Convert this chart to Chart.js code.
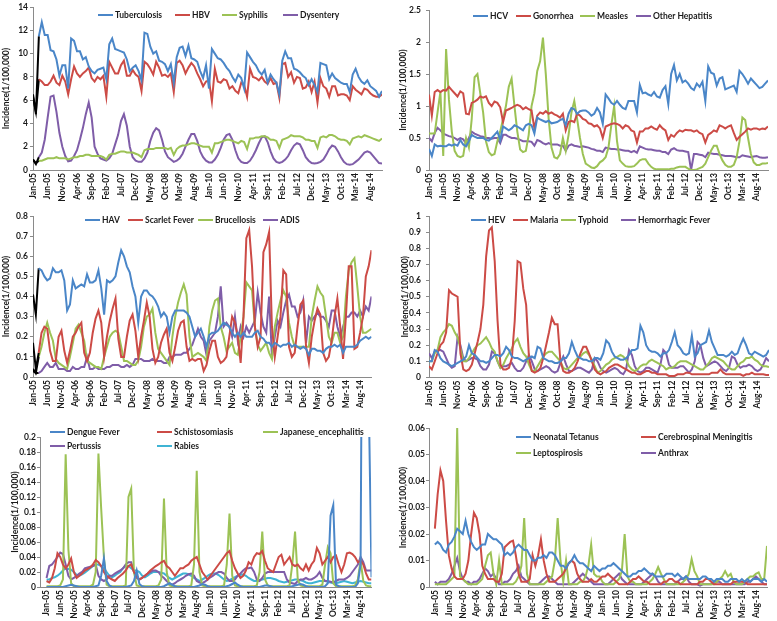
<!DOCTYPE html>
<html><head><meta charset="utf-8">
<script src="https://cdn.jsdelivr.net/npm/chart.js@4/dist/chart.umd.min.js"></script>
<style>
html,body{margin:0;padding:0;background:#fff;}
body{width:777px;height:621px;position:relative;overflow:hidden;font-family:Lato,'Liberation Sans',sans-serif;}
.panel{position:absolute;}
.lg{position:absolute;font:700 8.5px Lato,'Liberation Sans',sans-serif;color:#1a1a1a;white-space:nowrap;line-height:10px;height:10px;}
.lg i{position:absolute;left:0;top:4px;width:15px;height:2px;}
.lg span{position:absolute;left:17px;top:0;}
</style></head><body>
<script>
// ---------- categories ----------
const monthNames = ['Jan','Feb','Mar','Apr','May','Jun','Jul','Aug','Sep','Oct','Nov','Dec'];
const yearCodes = ['05','06','07','08','09','10','11','12','13','14'];
const categories = [];
yearCodes.forEach(y => monthNames.forEach(m => categories.push(m + '-' + y)));
const tickLabels = ['Jan-05','Jun-05','Nov-05','Apr-06','Sep-06','Feb-07','Jul-07','Dec-07','May-08','Oct-08','Mar-09','Aug-09','Jan-10','Jun-10','Nov-10','Apr-11','Sep-11','Feb-12','Jul-12','Dec-12','May-13','Oct-13','Mar-14','Aug-14'];

// ---------- panel 1 ----------
const tuberculosis = [
6.5,4.8,11.5,12.7,11.6,11.6,10.3,10.2,9.5,8.1,9.0,9.0,
7.0,11.3,11.1,10.2,10.2,9.5,9.7,8.9,8.5,8.3,8.6,8.7,
8.8,7.8,10.8,11.3,10.4,10.3,10.2,10.1,9.5,8.5,8.8,9.0,
8.5,7.7,11.8,11.7,10.6,10.0,10.2,9.4,9.3,9.1,8.5,9.1,
7.5,9.7,10.5,10.6,9.8,10.7,9.6,9.5,9.3,8.5,7.9,9.0,
7.0,10.4,10.0,9.6,9.5,9.2,8.8,8.5,8.0,7.6,8.2,7.9,
7.0,10.1,9.7,9.3,9.0,8.5,8.2,8.6,7.5,8.2,7.8,7.5,
6.5,9.4,10.2,9.6,9.6,8.7,8.6,8.4,8.1,7.9,7.3,7.8,
7.3,6.7,9.2,9.1,9.0,7.8,8.3,7.9,7.7,7.5,7.4,7.4,
6.7,8.2,8.7,8.0,7.6,7.4,7.7,7.2,7.0,6.8,6.3,6.8];
const hbv = [
6.3,5.0,7.8,7.6,7.3,7.3,7.6,8.1,7.5,7.3,8.1,7.6,
6.5,7.8,8.9,8.3,8.0,8.3,8.5,8.8,7.9,7.6,8.0,7.8,
8.1,6.3,9.3,8.8,8.3,8.3,9.0,9.4,8.1,8.1,8.6,8.2,
8.0,6.8,9.3,9.1,8.7,8.2,9.3,8.8,8.1,8.2,8.0,8.3,
6.7,9.2,9.4,9.0,8.3,8.8,9.2,8.9,8.3,7.8,7.2,7.6,
7.7,5.9,8.7,7.6,7.5,7.8,7.7,7.0,7.2,6.8,6.6,7.5,
7.3,6.3,8.7,8.0,7.9,7.7,8.0,7.6,7.4,7.9,7.4,7.5,
6.2,9.1,9.2,8.0,8.4,7.5,8.0,7.9,7.0,7.1,7.6,6.7,
7.6,5.8,7.9,7.2,7.0,6.3,7.2,7.2,6.4,6.5,6.5,6.4,
6.0,7.2,6.9,6.7,6.5,7.0,6.9,6.6,6.4,6.3,6.3,6.5];
const syphilis = [
0.9,0.6,0.8,0.8,0.9,1.0,1.0,1.0,1.1,1.0,1.0,1.0,
0.9,1.0,1.1,1.1,1.2,1.2,1.3,1.3,1.2,1.2,1.2,1.2,
1.1,0.9,1.3,1.4,1.4,1.5,1.6,1.6,1.5,1.5,1.5,1.4,
1.3,1.1,1.7,1.8,1.8,1.8,1.9,1.9,1.9,1.9,1.8,1.9,
1.3,1.8,2.0,2.1,2.1,2.2,2.3,2.3,2.2,2.1,2.0,2.0,
2.0,1.5,2.3,2.3,2.4,2.5,2.6,2.6,2.5,2.4,2.3,2.5,
2.4,1.8,2.7,2.7,2.8,2.8,2.9,2.9,2.8,2.6,2.6,2.5,
1.9,2.6,2.7,2.8,3.0,2.9,2.9,2.9,2.8,2.6,2.6,2.5,
2.5,1.9,2.8,2.9,2.8,3.0,3.0,2.9,2.7,2.6,2.6,2.5,
2.2,2.7,2.8,2.9,2.8,3.0,2.9,2.8,2.7,2.6,2.5,2.7];
const dysentery = [
0.9,0.5,1.1,1.5,2.6,4.5,6.3,6.4,5.0,3.2,2.0,1.2,
0.75,0.8,1.2,1.7,2.6,3.6,4.8,5.8,4.5,2.0,1.4,1.0,
0.9,0.8,1.0,1.4,2.2,3.0,4.2,4.8,3.8,2.0,1.1,0.8,
0.7,0.7,1.0,1.5,2.5,3.2,3.6,3.4,2.6,1.6,1.1,0.9,
0.7,0.8,1.0,1.4,2.0,2.6,3.1,3.1,2.5,1.6,1.1,0.8,
0.65,0.65,0.9,1.3,1.9,2.6,3.0,3.1,2.6,1.7,1.0,0.7,
0.6,0.6,0.8,1.2,1.7,2.3,2.8,2.9,2.4,1.6,1.0,0.7,
0.6,0.7,0.9,1.2,1.7,2.1,2.3,2.2,1.7,1.1,0.8,0.6,
0.55,0.6,0.7,0.9,1.3,1.8,2.1,2.0,1.6,1.1,0.7,0.5,
0.45,0.5,0.7,0.9,1.2,1.5,1.6,1.5,1.2,0.9,0.6,0.55];

// ---------- panel 2 ----------
const hcv = [
0.33,0.22,0.40,0.37,0.38,0.37,0.37,0.40,0.38,0.40,0.38,0.47,
0.40,0.37,0.45,0.55,0.52,0.50,0.50,0.50,0.47,0.46,0.50,0.55,
0.60,0.47,0.68,0.65,0.62,0.65,0.70,0.68,0.65,0.62,0.70,0.72,
0.70,0.57,0.82,0.79,0.77,0.75,0.77,0.73,0.74,0.75,0.78,0.80,
0.70,0.88,0.97,0.95,0.88,0.92,0.93,0.93,0.90,0.85,0.88,0.97,
0.90,0.72,1.18,1.12,1.05,1.02,1.08,1.02,0.97,0.95,1.08,1.08,
1.08,0.90,1.33,1.20,1.21,1.18,1.16,1.22,1.15,1.13,1.25,1.31,
1.03,1.50,1.64,1.40,1.50,1.37,1.40,1.35,1.28,1.25,1.35,1.30,
1.38,1.08,1.62,1.52,1.50,1.32,1.43,1.45,1.26,1.28,1.30,1.32,
1.22,1.55,1.50,1.43,1.35,1.43,1.38,1.33,1.28,1.30,1.35,1.40];
const gonorrhea = [
1.18,0.85,1.22,1.25,1.22,1.25,1.24,1.30,1.25,1.20,1.15,1.23,
1.20,0.88,0.87,1.05,1.07,1.10,1.15,1.13,1.15,1.05,1.00,1.07,
1.05,0.98,0.75,0.93,0.95,0.97,1.00,1.02,1.00,0.95,0.98,0.95,
0.93,0.65,0.85,0.90,0.88,0.92,0.88,0.90,0.87,0.85,0.82,0.88,
0.62,0.75,0.77,0.75,0.88,0.85,0.80,0.78,0.73,0.72,0.68,0.70,
0.65,0.50,0.68,0.70,0.72,0.73,0.72,0.70,0.65,0.70,0.68,0.62,
0.60,0.43,0.60,0.60,0.65,0.65,0.68,0.65,0.63,0.70,0.65,0.62,
0.47,0.55,0.52,0.58,0.62,0.60,0.63,0.62,0.62,0.60,0.62,0.58,
0.56,0.43,0.55,0.58,0.62,0.60,0.70,0.68,0.65,0.68,0.70,0.58,
0.47,0.52,0.56,0.60,0.65,0.63,0.65,0.65,0.63,0.65,0.64,0.68];
const measles = [
0.57,0.57,0.57,0.90,1.22,0.22,1.89,1.10,0.60,0.30,0.22,0.20,
0.22,0.50,0.35,0.80,1.45,1.50,1.20,0.90,0.45,0.28,0.23,0.25,
0.45,0.60,0.80,1.00,1.30,1.43,1.00,0.60,0.32,0.28,0.30,0.55,
1.00,1.20,1.55,1.70,2.07,1.50,0.80,0.35,0.20,0.18,0.25,0.50,
0.30,0.55,0.90,1.08,0.80,0.50,0.25,0.10,0.07,0.04,0.03,0.06,
0.12,0.15,0.20,0.35,0.70,1.00,0.45,0.15,0.10,0.06,0.05,0.05,
0.06,0.10,0.15,0.17,0.17,0.10,0.05,0.02,0.01,0.01,0.01,0.01,
0.01,0.02,0.02,0.04,0.05,0.05,0.05,0.02,0.00,0.00,0.01,0.03,
0.05,0.10,0.20,0.30,0.38,0.38,0.25,0.15,0.08,0.05,0.05,0.08,
0.20,0.45,0.82,0.78,0.50,0.25,0.12,0.08,0.08,0.10,0.10,0.11];
const otherHepatitis = [
0.50,0.45,0.58,0.66,0.62,0.57,0.55,0.53,0.52,0.50,0.47,0.50,
0.48,0.42,0.50,0.60,0.57,0.55,0.53,0.52,0.50,0.50,0.49,0.50,
0.50,0.42,0.55,0.55,0.52,0.50,0.50,0.49,0.47,0.45,0.45,0.45,
0.44,0.38,0.47,0.45,0.42,0.40,0.42,0.40,0.40,0.40,0.38,0.38,
0.30,0.38,0.40,0.38,0.37,0.36,0.37,0.36,0.35,0.33,0.32,0.30,
0.30,0.28,0.35,0.34,0.33,0.33,0.32,0.32,0.31,0.30,0.30,0.28,
0.30,0.27,0.37,0.35,0.33,0.32,0.32,0.31,0.30,0.30,0.28,0.28,
0.25,0.32,0.34,0.31,0.30,0.30,0.29,0.28,0.00,0.25,0.25,0.24,
0.23,0.20,0.27,0.26,0.25,0.25,0.24,0.23,0.22,0.22,0.22,0.21,
0.20,0.20,0.23,0.22,0.21,0.20,0.21,0.22,0.20,0.19,0.19,0.20];

// ---------- panel 3 ----------
const hav = [
0.41,0.31,0.54,0.53,0.50,0.48,0.49,0.54,0.52,0.52,0.53,0.48,
0.33,0.36,0.48,0.44,0.45,0.46,0.45,0.51,0.47,0.47,0.48,0.53,
0.44,0.31,0.48,0.47,0.48,0.50,0.57,0.63,0.60,0.55,0.52,0.45,
0.40,0.27,0.40,0.43,0.43,0.41,0.40,0.38,0.35,0.30,0.32,0.30,
0.22,0.30,0.33,0.33,0.33,0.33,0.32,0.30,0.25,0.20,0.22,0.24,
0.20,0.15,0.21,0.22,0.22,0.23,0.25,0.27,0.26,0.25,0.22,0.20,
0.22,0.20,0.22,0.20,0.20,0.20,0.22,0.23,0.20,0.19,0.17,0.17,
0.15,0.17,0.16,0.15,0.16,0.16,0.17,0.15,0.16,0.15,0.14,0.15,
0.14,0.11,0.14,0.14,0.13,0.13,0.12,0.14,0.15,0.15,0.16,0.15,
0.16,0.12,0.15,0.15,0.15,0.15,0.16,0.18,0.19,0.20,0.19,0.20];
const scarletFever = [
0.17,0.04,0.12,0.22,0.25,0.24,0.13,0.08,0.08,0.20,0.23,0.13,
0.07,0.13,0.20,0.22,0.25,0.27,0.12,0.08,0.12,0.22,0.29,0.33,
0.27,0.10,0.20,0.28,0.34,0.39,0.19,0.10,0.10,0.20,0.28,0.31,
0.23,0.10,0.20,0.28,0.37,0.30,0.14,0.07,0.10,0.17,0.21,0.24,
0.12,0.08,0.15,0.23,0.27,0.28,0.15,0.08,0.09,0.08,0.09,0.09,
0.03,0.06,0.13,0.18,0.18,0.10,0.07,0.08,0.10,0.20,0.30,0.27,
0.20,0.07,0.30,0.69,0.73,0.55,0.25,0.15,0.20,0.62,0.66,0.72,
0.25,0.10,0.20,0.30,0.53,0.51,0.15,0.10,0.12,0.25,0.36,0.38,
0.15,0.07,0.20,0.28,0.34,0.31,0.12,0.08,0.10,0.18,0.30,0.39,
0.25,0.09,0.30,0.55,0.55,0.14,0.15,0.22,0.30,0.50,0.55,0.63];
const brucellosis = [
0.04,0.02,0.10,0.15,0.22,0.27,0.22,0.18,0.09,0.07,0.06,0.05,
0.04,0.10,0.17,0.24,0.26,0.22,0.18,0.08,0.07,0.06,0.05,0.05,
0.04,0.10,0.15,0.20,0.22,0.23,0.22,0.15,0.08,0.08,0.07,0.06,
0.06,0.08,0.15,0.25,0.30,0.31,0.34,0.22,0.14,0.12,0.10,0.08,
0.06,0.20,0.30,0.37,0.42,0.46,0.41,0.20,0.10,0.11,0.12,0.11,
0.10,0.08,0.25,0.33,0.38,0.39,0.25,0.20,0.13,0.15,0.17,0.12,
0.11,0.20,0.30,0.47,0.45,0.43,0.25,0.16,0.13,0.15,0.17,0.12,
0.09,0.25,0.32,0.38,0.43,0.40,0.27,0.20,0.15,0.15,0.15,0.15,
0.15,0.15,0.30,0.38,0.45,0.42,0.40,0.30,0.20,0.17,0.22,0.22,
0.17,0.20,0.40,0.53,0.57,0.59,0.45,0.30,0.22,0.22,0.23,0.24];
const adis = [
0.03,0.02,0.02,0.03,0.05,0.07,0.05,0.05,0.07,0.04,0.04,0.04,
0.03,0.03,0.05,0.04,0.04,0.05,0.05,0.10,0.04,0.04,0.05,0.04,
0.04,0.04,0.05,0.05,0.06,0.06,0.06,0.05,0.05,0.06,0.05,0.06,
0.09,0.09,0.09,0.08,0.08,0.08,0.09,0.08,0.08,0.08,0.07,0.07,
0.10,0.10,0.11,0.11,0.11,0.12,0.12,0.14,0.16,0.20,0.24,0.20,
0.18,0.11,0.18,0.20,0.22,0.30,0.45,0.25,0.27,0.25,0.20,0.30,
0.18,0.25,0.20,0.25,0.22,0.25,0.28,0.42,0.32,0.25,0.22,0.40,
0.10,0.20,0.28,0.25,0.32,0.38,0.41,0.35,0.35,0.30,0.32,0.38,
0.17,0.30,0.28,0.30,0.32,0.30,0.30,0.28,0.25,0.33,0.33,0.25,
0.20,0.25,0.30,0.30,0.32,0.32,0.30,0.33,0.30,0.35,0.33,0.40];

// ---------- panel 4 ----------
const hev = [
0.10,0.10,0.17,0.16,0.12,0.10,0.09,0.08,0.07,0.08,0.09,0.10,
0.11,0.13,0.20,0.15,0.14,0.12,0.10,0.10,0.09,0.10,0.12,0.14,
0.14,0.13,0.15,0.19,0.17,0.13,0.12,0.12,0.11,0.10,0.11,0.12,
0.13,0.12,0.19,0.18,0.12,0.11,0.10,0.10,0.09,0.09,0.10,0.12,
0.12,0.15,0.22,0.17,0.13,0.12,0.11,0.11,0.10,0.10,0.12,0.12,
0.11,0.15,0.23,0.21,0.16,0.13,0.12,0.11,0.11,0.12,0.14,0.17,
0.17,0.18,0.32,0.28,0.20,0.17,0.16,0.16,0.15,0.13,0.15,0.15,
0.17,0.22,0.28,0.20,0.18,0.15,0.14,0.15,0.26,0.13,0.15,0.20,
0.21,0.22,0.29,0.22,0.18,0.14,0.14,0.14,0.13,0.14,0.16,0.14,
0.15,0.20,0.24,0.20,0.15,0.14,0.16,0.15,0.14,0.13,0.14,0.17];
const malaria = [
0.07,0.05,0.10,0.15,0.20,0.22,0.28,0.54,0.52,0.51,0.50,0.15,
0.05,0.04,0.05,0.08,0.15,0.22,0.30,0.45,0.75,0.91,0.93,0.72,
0.35,0.08,0.05,0.05,0.06,0.12,0.35,0.72,0.71,0.55,0.45,0.12,
0.04,0.03,0.04,0.06,0.12,0.20,0.28,0.37,0.33,0.33,0.10,0.04,
0.03,0.03,0.04,0.06,0.10,0.15,0.19,0.19,0.15,0.10,0.05,0.03,
0.02,0.03,0.04,0.06,0.07,0.08,0.08,0.07,0.06,0.05,0.04,0.03,
0.03,0.02,0.02,0.03,0.04,0.04,0.03,0.03,0.02,0.02,0.02,0.02,
0.01,0.01,0.01,0.02,0.02,0.02,0.03,0.03,0.02,0.02,0.02,0.02,
0.02,0.02,0.02,0.03,0.03,0.03,0.05,0.03,0.02,0.02,0.02,0.02,
0.02,0.02,0.01,0.02,0.02,0.03,0.02,0.02,0.02,0.02,0.015,0.015];
const typhoid = [
0.10,0.10,0.15,0.17,0.25,0.28,0.30,0.33,0.32,0.28,0.25,0.18,
0.10,0.10,0.12,0.15,0.18,0.20,0.21,0.23,0.25,0.22,0.18,0.16,
0.10,0.06,0.08,0.12,0.15,0.18,0.22,0.24,0.19,0.15,0.13,0.08,
0.04,0.04,0.07,0.10,0.13,0.15,0.16,0.16,0.14,0.12,0.10,0.06,
0.05,0.06,0.08,0.10,0.12,0.13,0.15,0.16,0.14,0.11,0.07,0.03,
0.04,0.06,0.08,0.09,0.11,0.12,0.13,0.14,0.13,0.11,0.07,0.05,
0.04,0.05,0.07,0.08,0.08,0.10,0.11,0.10,0.09,0.08,0.07,0.05,
0.06,0.06,0.07,0.09,0.10,0.10,0.10,0.09,0.08,0.07,0.06,0.05,
0.05,0.07,0.09,0.12,0.13,0.12,0.11,0.10,0.08,0.06,0.05,0.05,
0.07,0.09,0.10,0.12,0.12,0.13,0.11,0.10,0.08,0.07,0.07,0.065];
const hemorrhagicFever = [
0.15,0.12,0.16,0.17,0.17,0.16,0.12,0.08,0.06,0.07,0.25,0.20,
0.12,0.10,0.11,0.12,0.12,0.11,0.07,0.05,0.05,0.08,0.16,0.15,
0.10,0.06,0.07,0.07,0.08,0.09,0.06,0.04,0.04,0.06,0.10,0.14,
0.10,0.05,0.04,0.05,0.06,0.07,0.06,0.04,0.03,0.04,0.09,0.13,
0.08,0.04,0.04,0.05,0.06,0.06,0.05,0.04,0.03,0.05,0.12,0.10,
0.06,0.04,0.03,0.04,0.05,0.06,0.05,0.03,0.02,0.05,0.17,0.14,
0.07,0.04,0.03,0.04,0.06,0.06,0.05,0.04,0.03,0.08,0.17,0.15,
0.08,0.06,0.06,0.06,0.07,0.07,0.05,0.03,0.05,0.10,0.22,0.20,
0.12,0.07,0.08,0.09,0.10,0.09,0.07,0.05,0.04,0.06,0.13,0.12,
0.08,0.06,0.07,0.07,0.08,0.07,0.05,0.04,0.05,0.08,0.12,0.10];

// ---------- panel 5 ----------
const dengueFever = [
0,0,0,0,0,0,0,0.001,0.002,0.003,0.002,0.001,
0,0,0,0,0,0,0.001,0.002,0.015,0.038,0.008,0.002,
0,0,0,0,0,0,0.001,0.002,0.008,0.022,0.004,0.001,
0,0,0,0,0,0,0,0.001,0.003,0.005,0.003,0.001,
0,0,0,0,0,0,0,0.001,0.002,0.004,0.003,0.001,
0,0,0,0,0,0,0.001,0.002,0.004,0.006,0.003,0.001,
0,0,0,0,0,0,0,0.001,0.002,0.002,0.001,0,
0,0,0,0,0,0,0.001,0.002,0.003,0.004,0.003,0.001,
0,0,0,0,0,0,0.001,0.005,0.095,0.109,0.003,0.001,
0,0,0,0,0,0,0.005,0.030,0.700,0.900,0.250,0.013];
const schistosomiasis = [
0.008,0.006,0.012,0.025,0.045,0.040,0.030,0.025,0.030,0.038,0.020,0.012,
0.015,0.018,0.022,0.024,0.026,0.030,0.036,0.033,0.028,0.020,0.015,0.012,
0.010,0.008,0.012,0.015,0.018,0.022,0.028,0.030,0.020,0.015,0.010,0.012,
0.015,0.018,0.022,0.025,0.028,0.030,0.033,0.035,0.028,0.025,0.020,0.015,
0.020,0.025,0.025,0.028,0.030,0.035,0.038,0.040,0.030,0.020,0.015,0.010,
0.015,0.020,0.025,0.030,0.035,0.040,0.045,0.048,0.035,0.025,0.018,0.012,
0.015,0.022,0.033,0.030,0.040,0.045,0.044,0.048,0.035,0.025,0.022,0.020,
0.030,0.040,0.043,0.030,0.035,0.040,0.030,0.028,0.030,0.025,0.022,0.030,
0.022,0.030,0.035,0.052,0.045,0.030,0.035,0.040,0.033,0.040,0.042,0.030,
0.020,0.030,0.045,0.046,0.044,0.040,0.033,0.035,0.030,0.018,0.010,0.010];
const japaneseEncephalitis = [
0.001,0.001,0.001,0.001,0.001,0.002,0.010,0.177,0.050,0.005,0.001,0.001,
0.001,0.001,0.001,0.001,0.001,0.003,0.020,0.178,0.105,0.040,0.003,0.001,
0.001,0.001,0.001,0.001,0.001,0.002,0.120,0.131,0.020,0.002,0.001,0.001,
0.001,0.001,0.001,0.001,0.001,0.002,0.010,0.118,0.020,0.002,0.001,0.001,
0.001,0.001,0.001,0.001,0.001,0.002,0.030,0.155,0.020,0.002,0.001,0.001,
0.001,0.001,0.001,0.001,0.001,0.002,0.030,0.098,0.015,0.002,0.001,0.001,
0.001,0.001,0.001,0.001,0.001,0.002,0.020,0.074,0.010,0.002,0.001,0.001,
0.001,0.001,0.001,0.001,0.001,0.002,0.030,0.074,0.010,0.002,0.001,0.001,
0.001,0.001,0.001,0.001,0.001,0.003,0.030,0.053,0.045,0.005,0.001,0.001,
0.001,0.001,0.001,0.001,0.001,0.002,0.010,0.035,0.008,0.002,0.001,0.001];
const pertussis = [
0.012,0.028,0.030,0.035,0.040,0.046,0.044,0.030,0.015,0.010,0.012,0.015,
0.018,0.020,0.025,0.026,0.027,0.028,0.030,0.015,0.010,0.008,0.010,0.015,
0.015,0.018,0.020,0.022,0.025,0.030,0.033,0.033,0.020,0.012,0.010,0.012,
0.015,0.018,0.020,0.022,0.022,0.020,0.015,0.012,0.008,0.005,0.003,0.005,
0.008,0.010,0.012,0.015,0.017,0.018,0.015,0.008,0.006,0.005,0.007,0.010,
0.013,0.015,0.018,0.020,0.020,0.018,0.012,0.008,0.008,0.010,0.015,0.018,
0.022,0.025,0.025,0.026,0.020,0.010,0.008,0.012,0.018,0.020,0.020,0.020,
0.020,0.020,0.020,0.020,0.010,0.006,0.005,0.004,0.008,0.010,0.010,0.012,
0.010,0.010,0.012,0.015,0.020,0.012,0.008,0.008,0.007,0.006,0.008,0.010,
0.010,0.010,0.012,0.015,0.020,0.025,0.030,0.040,0.033,0.022,0.022,0.022];
const rabies = [
0.010,0.010,0.012,0.013,0.015,0.018,0.022,0.025,0.024,0.023,0.020,0.016,
0.015,0.017,0.019,0.022,0.025,0.028,0.030,0.030,0.028,0.025,0.020,0.015,
0.013,0.015,0.018,0.020,0.025,0.028,0.028,0.025,0.022,0.022,0.020,0.015,
0.013,0.015,0.018,0.020,0.020,0.020,0.019,0.018,0.015,0.012,0.010,0.012,
0.014,0.016,0.018,0.018,0.017,0.015,0.012,0.010,0.008,0.010,0.012,0.015,
0.017,0.018,0.018,0.016,0.013,0.010,0.008,0.009,0.011,0.013,0.015,0.016,
0.017,0.015,0.012,0.010,0.008,0.008,0.009,0.010,0.011,0.012,0.012,0.011,
0.010,0.008,0.007,0.006,0.007,0.008,0.009,0.010,0.010,0.009,0.008,0.006,
0.005,0.005,0.006,0.007,0.008,0.008,0.008,0.007,0.006,0.005,0.005,0.006,
0.007,0.008,0.007,0.006,0.005,0.006,0.007,0.008,0.007,0.006,0.005,0.005];

// ---------- panel 6 ----------
const neonatalTetanus = [
0.016,0.017,0.016,0.014,0.013,0.016,0.017,0.019,0.022,0.021,0.020,0.025,
0.020,0.017,0.015,0.014,0.015,0.016,0.016,0.020,0.019,0.018,0.018,0.017,
0.016,0.012,0.013,0.012,0.013,0.015,0.016,0.015,0.014,0.014,0.012,0.010,
0.010,0.011,0.011,0.012,0.011,0.013,0.013,0.012,0.010,0.008,0.008,0.007,
0.009,0.010,0.012,0.010,0.009,0.009,0.008,0.007,0.006,0.008,0.007,0.006,
0.007,0.007,0.008,0.008,0.009,0.008,0.007,0.006,0.005,0.004,0.004,0.005,
0.005,0.006,0.006,0.007,0.006,0.005,0.005,0.004,0.004,0.004,0.004,0.005,
0.005,0.005,0.004,0.005,0.004,0.003,0.004,0.003,0.003,0.003,0.003,0.003,
0.004,0.004,0.003,0.003,0.002,0.003,0.003,0.003,0.002,0.002,0.003,0.003,
0.003,0.002,0.003,0.002,0.003,0.002,0.003,0.003,0.003,0.002,0.003,0.002];
const cerebrospinalMeningitis = [
0.022,0.035,0.044,0.040,0.025,0.012,0.007,0.004,0.003,0.003,0.003,0.005,
0.010,0.020,0.028,0.026,0.020,0.008,0.005,0.003,0.003,0.003,0.002,0.002,
0.005,0.015,0.016,0.017,0.0175,0.012,0.005,0.002,0.002,0.002,0.003,0.012,
0.008,0.012,0.018,0.010,0.005,0.002,0.002,0.002,0.003,0.004,0.005,0.007,
0.009,0.010,0.009,0.005,0.003,0.002,0.002,0.002,0.003,0.002,0.002,0.003,
0.004,0.004,0.005,0.004,0.003,0.002,0.001,0.001,0.001,0.001,0.002,0.003,
0.003,0.004,0.003,0.002,0.002,0.001,0.001,0.001,0.001,0.001,0.002,0.002,
0.003,0.003,0.002,0.002,0.001,0.001,0.001,0.001,0.001,0.001,0.001,0.002,
0.002,0.003,0.003,0.002,0.001,0.001,0.001,0.001,0.001,0.001,0.001,0.002,
0.002,0.002,0.002,0.002,0.001,0.001,0.001,0.001,0.001,0.001,0.001,0.001];
const leptospirosis = [
0.001,0.001,0.001,0.001,0.001,0.002,0.003,0.004,0.060,0.004,0.003,0.002,
0.001,0.001,0.001,0.001,0.002,0.003,0.008,0.012,0.013,0.005,0.001,0.010,
0.001,0.001,0.001,0.001,0.001,0.002,0.004,0.008,0.026,0.005,0.001,0.001,
0.001,0.001,0.001,0.001,0.002,0.003,0.004,0.010,0.026,0.010,0.002,0.010,
0.001,0.001,0.001,0.001,0.002,0.002,0.004,0.008,0.016,0.005,0.004,0.004,
0.002,0.001,0.001,0.001,0.001,0.002,0.003,0.006,0.020,0.004,0.002,0.002,
0.001,0.001,0.001,0.001,0.001,0.002,0.003,0.005,0.0075,0.005,0.003,0.001,
0.001,0.001,0.001,0.001,0.001,0.002,0.003,0.005,0.0105,0.006,0.004,0.001,
0.001,0.001,0.001,0.001,0.001,0.002,0.003,0.004,0.006,0.004,0.005,0.002,
0.001,0.001,0.001,0.002,0.003,0.004,0.004,0.005,0.0055,0.003,0.003,0.0155];
const anthrax = [
0.002,0.001,0.002,0.002,0.002,0.003,0.005,0.008,0.011,0.006,0.003,0.002,
0.002,0.001,0.002,0.002,0.003,0.005,0.007,0.006,0.004,0.005,0.003,0.001,
0.001,0.002,0.002,0.003,0.005,0.006,0.008,0.004,0.003,0.002,0.001,0.001,
0.001,0.001,0.002,0.003,0.004,0.004,0.003,0.002,0.001,0.001,0.001,0.001,
0.001,0.001,0.002,0.003,0.004,0.005,0.004,0.003,0.002,0.001,0.001,0.001,
0.001,0.001,0.001,0.002,0.003,0.004,0.005,0.003,0.002,0.001,0.001,0.001,
0.001,0.001,0.001,0.002,0.003,0.004,0.005,0.004,0.002,0.001,0.001,0.001,
0.001,0.001,0.001,0.002,0.003,0.003,0.004,0.002,0.001,0.001,0.001,0.0005,
0.001,0.001,0.001,0.001,0.002,0.002,0.002,0.001,0.001,0.001,0.001,0.001,
0.001,0.001,0.001,0.001,0.002,0.002,0.003,0.004,0.003,0.002,0.001,0.001];

// ---------- colours ----------
const BLUE = '#4A86C8', RED = '#CC4B46', GREEN = '#9CC255', PURPLE = '#7F5DA8', CYAN = '#3FB4D4';
const FONT = "Lato, 'Liberation Sans', sans-serif";

// area: plot box inside each panel; xmin < 0 leaves a small gap between the y axis and the first month
const panels = [
  {x:0, y:0, w:388, h:205, area:{l:33, t:6, r:382, b:170}, xmin:0, max:14, step:2, title:6, tpad:2, black:true,
   series:[['Tuberculosis',tuberculosis,BLUE],['HBV',hbv,RED],['Syphilis',syphilis,GREEN],['Dysentery',dysentery,PURPLE]],
   legend:[[98,15,0],[175,15,1],[222,15,2],[283,15,3]]},
  {x:388, y:0, w:389, h:205, area:{l:41, t:7, r:380, b:170}, xmin:0, max:2.5, step:0.5, title:15, tpad:5, black:false,
   series:[['HCV',hcv,BLUE],['Gonorrhea',gonorrhea,RED],['Measles',measles,GREEN],['Other Hepatitis',otherHepatitis,PURPLE]],
   legend:[[473,16,0],[516,16,1],[580,16,2],[636,16,3]]},
  {x:0, y:205, w:388, h:205, area:{l:33, t:11, r:371.5, b:172}, xmin:0, max:0.8, step:0.1, title:6, tpad:2, black:true,
   series:[['HAV',hav,BLUE],['Scarlet Fever',scarletFever,RED],['Brucellosis',brucellosis,GREEN],['ADIS',adis,PURPLE]],
   legend:[[85,220,0],[128,220,1],[198,220,2],[263,220,3]]},
  {x:388, y:205, w:389, h:205, area:{l:41, t:11, r:381, b:172.5}, xmin:0, max:1, step:0.1, title:17, tpad:5, black:false,
   series:[['HEV',hev,BLUE],['Malaria',malaria,RED],['Typhoid',typhoid,GREEN],['Hemorrhagic Fever',hemorrhagicFever,PURPLE]],
   legend:[[471,220,0],[513,220,1],[561,220,2],[621,220,3]]},
  {x:0, y:410, w:388, h:211, area:{l:40, t:27, r:371.5, b:177}, xmin:-2.4, max:0.2, step:0.02, title:15, tpad:1, black:false,
   series:[['Dengue Fever',dengueFever,BLUE],['Schistosomiasis',schistosomiasis,RED],['Japanese_encephalitis',japaneseEncephalitis,GREEN],['Pertussis',pertussis,PURPLE],['Rabies',rabies,CYAN]],
   legend:[[50,432,0],[157,432,1],[263,432,2],[50,446,3],[157,446,4]]},
  {x:388, y:410, w:389, h:211, area:{l:41, t:18, r:379, b:177}, xmin:-2.1, max:0.06, step:0.01, title:15, tpad:1, black:false,
   series:[['Neonatal Tetanus',neonatalTetanus,BLUE],['Cerebrospinal Meningitis',cerebrospinalMeningitis,RED],['Leptospirosis',leptospirosis,GREEN],['Anthrax',anthrax,PURPLE]],
   legend:[[516,437,0],[641,437,1],[516,453,2],[641,453,3]]}
];

const tickFont = {family: FONT, size: 8.5, weight: '700'};
const tickIndex = tickLabels.map(t => categories.indexOf(t));

panels.forEach(p => {
  const div = document.createElement('div');
  div.className = 'panel';
  div.style.left = p.x + 'px'; div.style.top = p.y + 'px';
  div.style.width = p.w + 'px'; div.style.height = p.h + 'px';
  const cv = document.createElement('canvas');
  cv.width = p.w; cv.height = p.h;
  cv.style.width = p.w + 'px'; cv.style.height = p.h + 'px';
  div.appendChild(cv);
  document.body.appendChild(div);

  new Chart(cv, {
    type: 'line',
    data: {
      datasets: p.series.map(s => ({
        label: s[0], data: s[1].map((v, i) => ({x: i, y: v})), borderColor: s[2], backgroundColor: s[2],
        borderWidth: 2, pointRadius: 0, tension: 0, fill: false,
        segment: p.black ? {borderColor: c => c.p0DataIndex < 2 ? '#000' : undefined} : undefined
      }))
    },
    options: {
      responsive: false, animation: false, devicePixelRatio: 1,
      layout: {padding: {top: p.area.t, right: p.w - p.area.r, left: 0, bottom: 0}},
      plugins: {legend: {display: false}, tooltip: {enabled: false}},
      scales: {
        x: {
          type: 'linear', min: p.xmin, max: categories.length - 1,
          afterBuildTicks: s => { s.ticks = tickIndex.map(v => ({value: v})); },
          ticks: {autoSkip: false, maxRotation: 90, minRotation: 90, font: tickFont, color: '#1a1a1a', padding: 3,
                  callback: v => categories[v] || ''},
          grid: {display: false, drawTicks: false},
          border: {color: '#8a8a8a', width: 1},
          afterFit: s => { s.height = p.h - p.area.b; }
        },
        y: {
          min: 0, max: p.max,
          ticks: {stepSize: p.step, font: tickFont, color: '#1a1a1a', padding: p.tpad,
                  callback: v => String(Number(v.toFixed(4)))},
          grid: {drawOnChartArea: false, drawTicks: true, tickLength: 3, color: '#8a8a8a'},
          border: {color: '#8a8a8a', width: 1},
          title: {display: true, text: 'Incidence(1/100,000)', font: {family: FONT, size: 8.5, weight: '700'}, color: '#1a1a1a',
                  padding: {top: p.title - 5, bottom: 0}},
          afterFit: s => { s.width = p.area.l; }
        }
      }
    }
  });

  p.legend.forEach(L => {
    const s = p.series[L[2]];
    const el = document.createElement('div');
    el.className = 'lg';
    el.style.left = L[0] + 'px';
    el.style.top = (L[1] - 5) + 'px';
    el.innerHTML = '<i style="background:' + s[2] + '"></i><span>' + s[0] + '</span>';
    document.body.appendChild(el);
  });
});
</script>
</body></html>
